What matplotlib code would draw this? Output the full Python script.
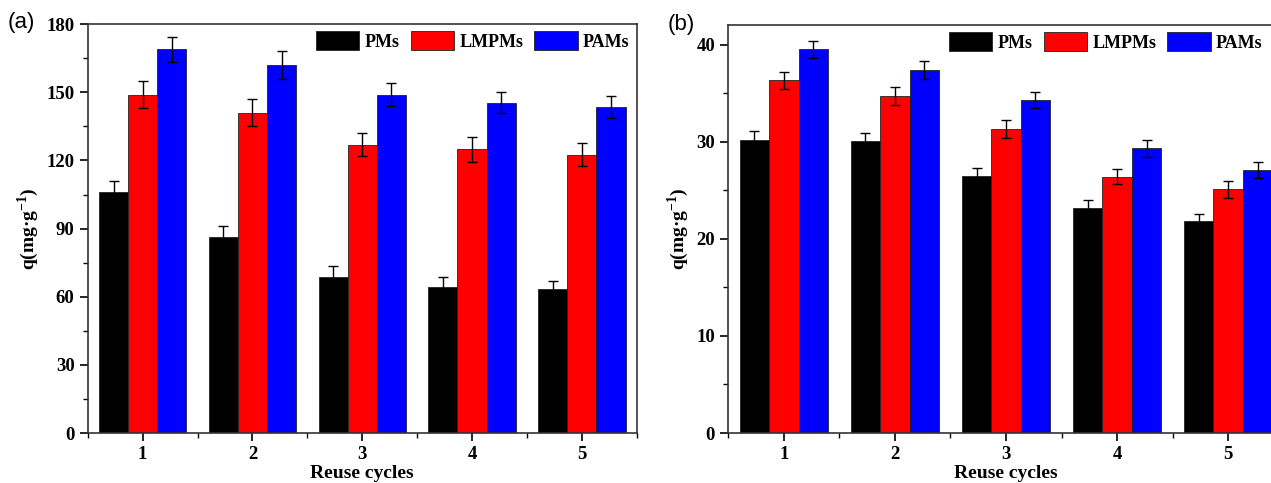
import numpy as np
import matplotlib
matplotlib.use("Agg")
import matplotlib.pyplot as plt
from matplotlib.ticker import MultipleLocator

plt.rcParams['font.family'] = ['Liberation Serif', 'DejaVu Serif']
plt.rcParams['font.weight'] = 'bold'
plt.rcParams['mathtext.fontset'] = 'custom'
plt.rcParams['mathtext.rm'] = 'Liberation Serif:bold'
plt.rcParams['mathtext.bf'] = 'Liberation Serif:bold'

cycles = [1, 2, 3, 4, 5]
series = ["PMs", "LMPMs", "PAMs"]
colors = ["black", "#ff0000", "#0000ff"]

# panel (a)
a_pms = [106, 86.5, 68.5, 64.5, 63.5]
a_lmpms = [149, 141, 127, 125, 122.5]
a_pams = [169, 162, 149, 145.5, 143.5]
a_pms_err = [5, 4.5, 5, 4, 3.5]
a_lmpms_err = [6, 6, 5, 5.5, 5]
a_pams_err = [5.5, 6, 5, 4.5, 5]

# panel (b)
b_pms = [30.2, 30.1, 26.5, 23.2, 21.8]
b_lmpms = [36.3, 34.7, 31.3, 26.4, 25.1]
b_pams = [39.5, 37.4, 34.3, 29.3, 27.1]
b_pms_err = [0.9, 0.8, 0.8, 0.8, 0.8]
b_lmpms_err = [0.9, 0.9, 0.9, 0.8, 0.9]
b_pams_err = [0.9, 0.9, 0.8, 0.9, 0.8]


def draw_panel(ax, vals, errs, ymax, ystep, leg_x):
    x = np.array(cycles)
    w = 0.265
    for i, (v, e) in enumerate(zip(vals, errs)):
        ax.bar(x + (i - 1) * w, v, w, color=colors[i], edgecolor='#222222',
               linewidth=0.6, label=series[i],
               yerr=e, capsize=3.5, error_kw=dict(ecolor='black', elinewidth=1.0, capthick=1.0))
    ax.set_xlim(0.5, 5.5)
    ax.set_ylim(0, ymax)
    ax.set_xticks(cycles)
    ax.xaxis.set_minor_locator(MultipleLocator(0.5))
    ax.yaxis.set_major_locator(MultipleLocator(ystep))
    ax.yaxis.set_minor_locator(MultipleLocator(ystep / 2))
    ax.tick_params(which='major', direction='out', length=6, width=1.2, labelsize=13.5)
    ax.tick_params(which='minor', direction='out', length=3.5, width=1.0)
    for s in ax.spines.values():
        s.set_linewidth(1.2)
        s.set_color('#333333')
    ax.set_xlabel("Reuse cycles", fontsize=14, fontweight='bold', labelpad=1)
    ax.set_ylabel("q(mg·g$^{-1}$)", fontsize=14, fontweight='bold', labelpad=4)
    ax.legend(loc='upper right', bbox_to_anchor=(leg_x, 1.0), ncol=3, frameon=False,
              fontsize=13, handlelength=2.4, handleheight=1.2, handletextpad=0.3,
              columnspacing=0.6, borderaxespad=0.2, borderpad=0.2)


fig = plt.figure(figsize=(12.71, 4.83), dpi=100)
ax1 = fig.add_axes([0.069, 0.1035, 0.432, 0.8465])
ax2 = fig.add_axes([0.573, 0.1035, 0.437, 0.8445])

draw_panel(ax1, [a_pms, a_lmpms, a_pams], [a_pms_err, a_lmpms_err, a_pams_err], 180, 30, 1.0)
draw_panel(ax2, [b_pms, b_lmpms, b_pams], [b_pms_err, b_lmpms_err, b_pams_err], 42, 10, 0.975)

fig.text(0.006, 0.942, "(a)", family='Liberation Sans', fontweight='normal', fontsize=16, va='baseline')
fig.text(0.525, 0.937, "(b)", family='Liberation Sans', fontweight='normal', fontsize=16, va='baseline')

fig.savefig("out.png", dpi=100)
